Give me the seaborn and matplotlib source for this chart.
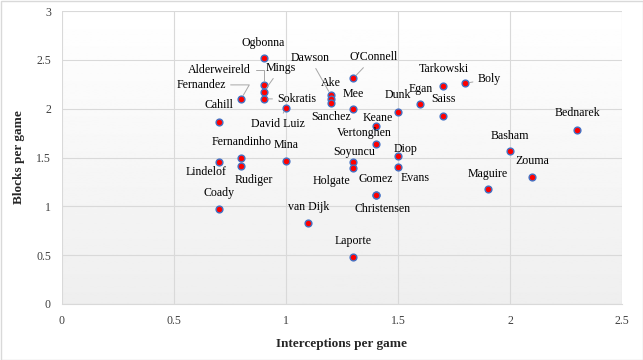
import matplotlib
matplotlib.use("Agg")
import matplotlib.pyplot as plt
import seaborn as sns
import numpy as np
import pandas as pd

# Data
players = ["Ogbonna", "Alderweireld", "Mings", "Sokratis", "Fernandez", "Cahill",
           "David Luiz", "Dawson", "Ake", "Sanchez", "O'Connell", "Mee", "Keane",
           "Vertonghen", "Dunk", "Egan", "Tarkowski", "Boly", "Saiss", "Bednarek",
           "Basham", "Zouma", "Maguire", "Diop", "Evans", "Fernandinho", "Rudiger",
           "Lindelof", "Mina", "Soyuncu", "Holgate", "Gomez", "Christensen", "Coady",
           "van Dijk", "Laporte"]
interceptions = [0.9, 0.9, 0.9, 0.9, 0.8, 0.7,
                 1.0, 1.2, 1.2, 1.2, 1.3, 1.3, 1.4,
                 1.4, 1.5, 1.6, 1.7, 1.8, 1.7, 2.3,
                 2.0, 2.1, 1.9, 1.5, 1.5, 0.8, 0.8,
                 0.7, 1.0, 1.3, 1.3, 1.4, 1.4, 0.7,
                 1.1, 1.3]
blocks = [2.52, 2.24, 2.17, 2.10, 2.10, 1.86,
          2.01, 2.14, 2.10, 2.06, 2.31, 2.00, 1.82,
          1.64, 1.97, 2.05, 2.23, 2.26, 1.92, 1.78,
          1.57, 1.30, 1.18, 1.52, 1.40, 1.49, 1.41,
          1.45, 1.46, 1.45, 1.39, 1.12, 1.12, 0.97,
          0.83, 0.48]

df = pd.DataFrame({"player": players, "int": interceptions, "blk": blocks})

# label offsets in pixels (dx, dy), and which labels get a leader line
offsets = {
    "Ogbonna": (0, 15), "Alderweireld": (-44, 15), "Mings": (17, 24),
    "Sokratis": (33, 0), "Fernandez": (-40, 14), "Cahill": (0, 17),
    "David Luiz": (-8, -16), "Dawson": (-21, 37), "Ake": (0, 16),
    "Sanchez": (0, -14), "O'Connell": (20, 21), "Mee": (0, 15),
    "Keane": (2, 8), "Vertonghen": (-11, 11), "Dunk": (0, 17),
    "Egan": (0, 15), "Tarkowski": (1, 17), "Boly": (24, 4),
    "Saiss": (1, 17), "Bednarek": (0, 17), "Basham": (0, 15),
    "Zouma": (0, 16), "Maguire": (0, 15), "Diop": (8, 7),
    "Evans": (17, -11), "Fernandinho": (0, 16), "Rudiger": (13, -14),
    "Lindelof": (-13, -10), "Mina": (0, 16), "Soyuncu": (1, 10),
    "Holgate": (-22, -13), "Gomez": (0, 16), "Christensen": (7, -14),
    "Coady": (0, 16), "van Dijk": (0, 16), "Laporte": (0, 16),
}
leaders = {"Alderweireld": "angle,angleA=0,angleB=90,rad=0",
           "Fernandez": "angle,angleA=0,angleB=60,rad=0",
           "Mings": "arc3", "Sokratis": "arc3", "David Luiz": "arc3",
           "Dawson": "arc3", "O'Connell": "arc3", "Boly": "arc3"}

sns.set_style("white")
plt.rcParams["font.family"] = ["Liberation Serif", "DejaVu Serif"]

fig = plt.figure(figsize=(6.43, 3.6), dpi=100)
ax = fig.add_axes([62 / 643, 56 / 360, 560 / 643, 293 / 360])

# plot area gradient (white at top to light gray at bottom)
grad = np.linspace(1.0, 0.935, 256).reshape(-1, 1)
ax.imshow(grad, extent=[0, 2.5, 0, 3], aspect="auto", cmap="gray",
          vmin=0, vmax=1, zorder=0, origin="upper")

sns.scatterplot(data=df, x="int", y="blk", ax=ax, color="red", s=24,
                edgecolor="#4472C4", linewidth=1.0, zorder=3)

for name, x, y in zip(players, interceptions, blocks):
    dx, dy = offsets[name]
    arrow = None
    if name in leaders:
        arrow = dict(arrowstyle="-", color="#a6a6a6", lw=0.7,
                     shrinkA=1, shrinkB=3, connectionstyle=leaders[name])
    ax.annotate(name, (x, y), xytext=(dx, dy), textcoords="offset pixels",
                ha="center", va="center", fontsize=8.6, color="black",
                arrowprops=arrow, zorder=4)

ax.set_xlim(0, 2.5)
ax.set_ylim(0, 3)
ax.set_xticks([0, 0.5, 1, 1.5, 2, 2.5])
ax.set_xticklabels(["0", "0.5", "1", "1.5", "2", "2.5"])
ax.set_yticks([0, 0.5, 1, 1.5, 2, 2.5, 3])
ax.set_yticklabels(["0", "0.5", "1", "1.5", "2", "2.5", "3"])
ax.grid(True, color="#d9d9d9", lw=0.8, zorder=1)
ax.set_axisbelow(True)
for sp in ax.spines.values():
    sp.set_visible(False)
ax.spines["bottom"].set_visible(True)
ax.spines["bottom"].set_color("#d9d9d9")
ax.tick_params(axis="both", length=0, labelsize=8.6, labelcolor="#404040", pad=8)

ax.set_xlabel("Interceptions per game", fontsize=9.5, fontweight="bold", labelpad=8)
ax.set_ylabel("Blocks per game", fontsize=9.5, fontweight="bold", labelpad=8)

# chart area border
fig.patches.append(plt.Rectangle((0.5 / 643, 0.5 / 360), 642 / 643, 359 / 360,
                                 transform=fig.transFigure, fill=False,
                                 edgecolor="#d9d9d9", lw=1))

fig.savefig("out.png", dpi=100)
